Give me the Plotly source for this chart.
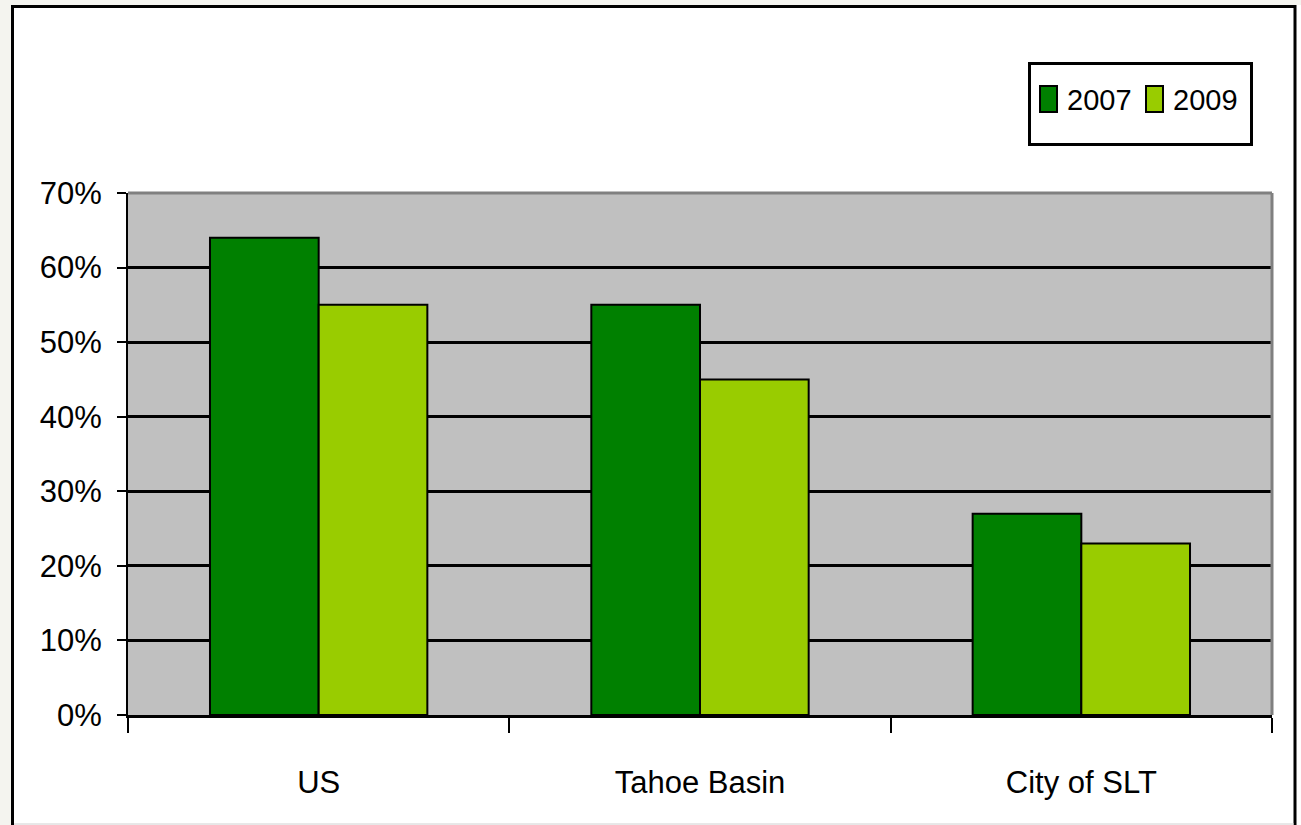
import plotly.graph_objects as go

categories = ["US", "Tahoe Basin", "City of SLT"]
series_names = ["2007", "2009"]
series_colors = ["#008000", "#99CC00"]
values_2007 = [64, 55, 27]
values_2009 = [55, 45, 23]
y_ticks = [0, 10, 20, 30, 40, 50, 60, 70]
y_tick_labels = [f"{v}%" for v in y_ticks]

FONT = "Liberation Sans, Arial, sans-serif"
FS = 31
W, H = 1301, 825
L, R, T, B = 128, 29, 193, 110
PW = W - L - R
PH = H - T - B


def px_x(p):
    return (p - L) / PW


def px_y(p):
    return (H - B - p) / PH


fig = go.Figure()
for name, vals, col in zip(series_names, [values_2007, values_2009], series_colors):
    fig.add_trace(go.Bar(x=categories, y=vals, name=name,
                         marker=dict(color=col, line=dict(color="black", width=2))))

shapes = [
    # off-white strips outside the frame
    dict(type="rect", xref="paper", yref="paper", x0=px_x(-5), x1=px_x(11), y0=px_y(-5), y1=px_y(H + 5),
         fillcolor="#f4f4ef", line=dict(width=0), layer="below"),
    dict(type="rect", xref="paper", yref="paper", x0=px_x(-5), x1=px_x(W + 5), y0=px_y(-5), y1=px_y(5),
         fillcolor="#f4f4ef", line=dict(width=0), layer="below"),
    # outer frame
    dict(type="rect", xref="paper", yref="paper", x0=px_x(12.5), x1=px_x(1295), y0=px_y(6.5), y1=px_y(835),
         line=dict(color="black", width=3), fillcolor="rgba(0,0,0,0)", layer="above"),
    dict(type="line", xref="paper", yref="paper", x0=px_x(14), x1=px_x(1294), y0=px_y(824), y1=px_y(824),
         line=dict(color="#d0d0d0", width=1), layer="above"),
    # top and right plot border in gray
    dict(type="line", xref="paper", yref="paper", x0=0, x1=1, y0=1, y1=1,
         line=dict(color="#808080", width=3), layer="above"),
    dict(type="line", xref="paper", yref="paper", x0=1, x1=1, y0=0, y1=1,
         line=dict(color="#808080", width=3), layer="above"),
    # legend box
    dict(type="rect", xref="paper", yref="paper", x0=px_x(1029.5), x1=px_x(1251.5), y0=px_y(63.5), y1=px_y(144.5),
         line=dict(color="black", width=3), fillcolor="white", layer="above"),
]

annotations = []
swatch_x = [1040, 1146]
text_x = [1065, 1171]
for name, col, sx, tx in zip(series_names, series_colors, swatch_x, text_x):
    shapes.append(dict(type="rect", xref="paper", yref="paper",
                       x0=px_x(sx), x1=px_x(sx + 17), y0=px_y(86), y1=px_y(112),
                       line=dict(color="black", width=2), fillcolor=col, layer="above"))
    annotations.append(dict(xref="paper", yref="paper", x=px_x(tx), y=px_y(100),
                            xanchor="left", yanchor="middle", text=name, showarrow=False,
                            font=dict(family=FONT, size=29, color="black")))

fig.update_layout(
    width=W, height=H,
    margin=dict(l=L, r=R, t=T, b=B, pad=0),
    paper_bgcolor="white",
    plot_bgcolor="#C0C0C0",
    barmode="group",
    bargap=0.43,
    bargroupgap=0,
    font=dict(family=FONT, size=FS, color="black"),
    showlegend=False,
    shapes=shapes,
    annotations=annotations,
    xaxis=dict(
        showline=True, linecolor="black", linewidth=3,
        ticks="outside", ticklen=15, tickwidth=2, tickcolor="black",
        tickson="boundaries", showgrid=False, ticklabelstandoff=38,
        tickfont=dict(family=FONT, size=FS, color="black"),
    ),
    yaxis=dict(
        range=[0, 70], tickvals=y_ticks, ticktext=y_tick_labels,
        showline=True, linecolor="black", linewidth=2,
        ticks="outside", ticklen=9, tickwidth=2, tickcolor="black",
        showgrid=True, gridcolor="black", gridwidth=3, zeroline=False,
        ticklabelstandoff=9,
        tickfont=dict(family=FONT, size=FS, color="black"),
    ),
)

fig.write_html("out.html", config={"displayModeBar": False},
               post_script="document.body.style.margin='0';document.body.style.overflow='hidden';")
